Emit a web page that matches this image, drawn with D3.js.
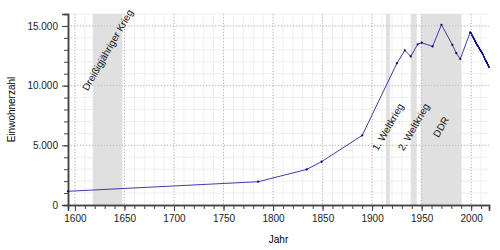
<!DOCTYPE html>
<html>
<head>
<meta charset="utf-8">
<script src="https://cdn.jsdelivr.net/npm/d3@7"></script>
<style>
  body { margin: 0; background: #fff; }
  text { font-family: "Liberation Sans", Arial, sans-serif; }
</style>
</head>
<body>
<script>
// Einwohnerzahl pro Jahr
const years = [1593, 1785, 1834, 1849, 1890, 1925, 1933, 1939, 1946, 1950, 1961, 1970, 1981, 1985, 1989,
  1999, 2000, 2001, 2002, 2003, 2004, 2005, 2006, 2007, 2008, 2009, 2010, 2011, 2012, 2013, 2014, 2015, 2016, 2017, 2018];
const population = [1150, 1950, 2980, 3630, 5830, 11870, 12960, 12450, 13460, 13600, 13280, 15100, 13420, 12720, 12230,
  14460, 14380, 14200, 14050, 13900, 13720, 13560, 13400, 13300, 13150, 13000, 12880, 12750, 12600, 12400, 12200, 12050, 11900, 11720, 11550];

// historische Zeitraeume
const periodNames = ["Dreißigjähriger Krieg", "1. Weltkrieg", "2. Weltkrieg", "DDR"];
const periodStart = [1618, 1914, 1939, 1949];
const periodEnd = [1648, 1918, 1945, 1990];

const xTicks = [1600, 1650, 1700, 1750, 1800, 1850, 1900, 1950, 2000];
const yTicks = [0, 5000, 10000, 15000];

const width = 500, height = 250;
const mLeft = 68, mRight = 489, mTop = 14, mBottom = 205;

const x = d3.scaleLinear().domain([1593, 2018]).range([mLeft, mRight]);
const y = d3.scaleLinear().domain([0, 16000]).range([mBottom, mTop]);

const svg = d3.select("body").append("svg")
  .attr("width", width)
  .attr("height", height);

// kleine Gitterlinien
svg.append("g").selectAll("line")
  .data(d3.range(1600, 2019, 10))
  .join("line")
  .attr("x1", d => x(d)).attr("x2", d => x(d))
  .attr("y1", mTop).attr("y2", mBottom)
  .attr("stroke", "#efefef");

svg.append("g").selectAll("line")
  .data(d3.range(1000, 16001, 1000))
  .join("line")
  .attr("x1", mLeft).attr("x2", mRight)
  .attr("y1", d => y(d)).attr("y2", d => y(d))
  .attr("stroke", "#efefef");

// Zeitraeume
const periods = periodNames.map((n, i) => ({name: n, start: periodStart[i], end: periodEnd[i]}));

svg.append("g").selectAll("rect")
  .data(periods)
  .join("rect")
  .attr("x", d => x(d.start))
  .attr("y", mTop)
  .attr("width", d => x(d.end) - x(d.start))
  .attr("height", mBottom - mTop)
  .attr("fill", "#e0e0e0");

// grosse Gitterlinien (gepunktet)
svg.append("g").selectAll("line")
  .data(xTicks)
  .join("line")
  .attr("x1", d => x(d)).attr("x2", d => x(d))
  .attr("y1", mTop).attr("y2", mBottom)
  .attr("stroke", "#bbb")
  .attr("stroke-dasharray", "1,2");

svg.append("g").selectAll("line")
  .data(yTicks.filter(d => d > 0))
  .join("line")
  .attr("x1", mLeft).attr("x2", mRight)
  .attr("y1", d => y(d)).attr("y2", d => y(d))
  .attr("stroke", "#bbb")
  .attr("stroke-dasharray", "1,2");

// Beschriftung der Zeitraeume
const labelY = [50, 127, 127, 127];
svg.append("g").selectAll("text")
  .data(periods)
  .join("text")
  .attr("transform", (d, i) => `translate(${x((d.start + d.end) / 2)},${labelY[i]}) rotate(-60)`)
  .attr("text-anchor", "middle")
  .attr("dy", "0.35em")
  .attr("font-size", 10)
  .attr("fill", "#111")
  .text(d => d.name);

// Achsen
const xAxisMinor = d3.axisBottom(x).tickValues(d3.range(1600, 2019, 10)).tickSize(4).tickFormat("");
const yAxisMinor = d3.axisLeft(y).tickValues(d3.range(0, 16001, 1000)).tickSize(4).tickFormat("");
const xAxis = d3.axisBottom(x).tickValues(xTicks).tickSize(6).tickPadding(4).tickFormat(d3.format("d"));
const yAxis = d3.axisLeft(y).tickValues(yTicks).tickSize(6).tickPadding(4)
  .tickFormat(d => d3.format(",")(d).replace(/,/g, "."));

svg.append("g").attr("transform", `translate(0,${mBottom})`).call(xAxisMinor);
svg.append("g").attr("transform", `translate(${mLeft},0)`).call(yAxisMinor);
svg.append("g").attr("transform", `translate(0,${mBottom})`).call(xAxis);
svg.append("g").attr("transform", `translate(${mLeft},0)`).call(yAxis);

svg.selectAll(".domain").attr("stroke", "#444").attr("stroke-width", 1.5);
svg.selectAll(".tick line").attr("stroke", "#444");
svg.selectAll(".tick text").attr("font-size", 10).attr("fill", "#222")
  .attr("font-family", "Liberation Sans, Arial, sans-serif");

// Linie
const pts = years.map((yr, i) => [yr, population[i]]);
svg.append("path")
  .datum(pts)
  .attr("fill", "none")
  .attr("stroke", "#3d3da6")
  .attr("stroke-width", 1)
  .attr("d", d3.line().x(d => x(d[0])).y(d => y(d[1])));

svg.append("g").selectAll("circle")
  .data(pts)
  .join("circle")
  .attr("cx", d => x(d[0]))
  .attr("cy", d => y(d[1]))
  .attr("r", 1.1)
  .attr("fill", "#00006e");

// Achsentitel
svg.append("text")
  .attr("x", (mLeft + mRight) / 2)
  .attr("y", 243)
  .attr("text-anchor", "middle")
  .attr("font-size", 10)
  .text("Jahr");

svg.append("text")
  .attr("transform", `translate(15,${(mTop + mBottom) / 2}) rotate(-90)`)
  .attr("text-anchor", "middle")
  .attr("font-size", 10)
  .text("Einwohnerzahl");
</script>
</body>
</html>
